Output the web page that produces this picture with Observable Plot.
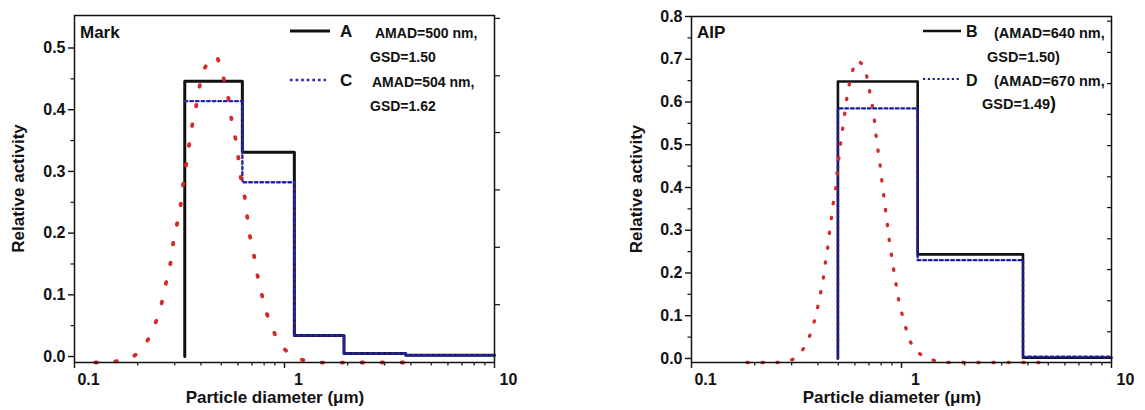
<!DOCTYPE html>
<html>
<head>
<meta charset="utf-8">
<script src="https://cdn.jsdelivr.net/npm/d3@7"></script>
<script src="https://cdn.jsdelivr.net/npm/@observablehq/plot@0.6"></script>
<style>
  html, body { margin: 0; padding: 0; background: #fff; }
  #wrap { display: flex; width: 1145px; height: 410px; overflow: hidden; }
  svg text { font-family: "Liberation Sans", Arial, sans-serif; font-weight: bold; }
</style>
</head>
<body>
<div id="wrap"></div>
<script>
// ---------- data ----------
// Left panel "Mark": bin edges (µm) and relative activity per bin
const leftEdges = [0.335, 0.63, 1.114, 1.92, 3.78, 10];
const seriesA = [0.446, 0.331, 0.034, 0.005, 0.002];
const seriesC = [0.414, 0.2825, 0.034, 0.005, 0.002];
// Left panel fitted lognormal (red dotted)
const leftFitX = [0.1258,0.1566,0.190,0.2215,0.2434,0.2599,0.2727,0.2858,0.2944,0.3074,0.3199,0.3284,0.3393,0.3506,0.3623,0.3785,0.3925,0.4147,0.4677,0.5087,0.5374,0.5552,0.5800,0.5994,0.6146,0.6421,0.6613,0.6806,0.7110,0.7379,0.7734,0.8141,0.8750,0.9592,1.1215,1.396,1.751,2.162,2.691,3.349,4.169];
const leftFitY = [-0.0097,-0.008,0.0,0.025,0.055,0.086,0.119,0.150,0.182,0.214,0.245,0.277,0.308,0.341,0.372,0.404,0.435,0.466,0.487,0.455,0.423,0.391,0.359,0.329,0.296,0.265,0.232,0.200,0.169,0.137,0.106,0.075,0.046,0.019,-0.001,-0.009,-0.0097,-0.0097,-0.0097,-0.0097,-0.0097];

// Right panel "AIP"
const rightEdges = [0.498, 1.194, 3.79, 10];
const seriesB = [0.648, 0.2436, 0.0016];
const seriesD = [0.585, 0.230, 0.004];
const rightFitX = [0.1839,0.2168,0.2554,0.3008,0.3380,0.3648,0.3828,0.3981,0.4114,0.4238,0.4331,0.4442,0.4525,0.4626,0.4713,0.4849,0.4924,0.5011,0.5104,0.5217,0.5333,0.5451,0.5590,0.5801,0.6128,0.6659,0.6911,0.7142,0.7348,0.7486,0.7627,0.7796,0.7968,0.8109,0.8288,0.8444,0.8630,0.8790,0.9015,0.9244,0.9489,0.9761,1.0132,1.0620,1.1215,1.2376,1.4424,1.7003,2.0032,2.3604,2.7813,3.2767,3.7777,4.4513,5.2457];
const rightFitY = [-0.0094,-0.0094,-0.0094,-0.003,0.020,0.052,0.084,0.118,0.152,0.186,0.221,0.255,0.290,0.324,0.358,0.393,0.428,0.461,0.496,0.529,0.564,0.598,0.632,0.666,0.697,0.680,0.646,0.611,0.576,0.543,0.507,0.473,0.440,0.404,0.371,0.337,0.301,0.268,0.233,0.198,0.164,0.130,0.098,0.063,0.032,0.009,-0.005,-0.0094,-0.0094,-0.0094,-0.0094,-0.0094,-0.0094,-0.0094,-0.0094];

// Axis ticks
const xMajor = [0.1, 1, 10];
const xMinor = [0.2,0.3,0.4,0.5,0.6,0.7,0.8,0.9,2,3,4,5,6,7,8,9];
const leftYMajor = [0, 0.1, 0.2, 0.3, 0.4, 0.5];
const leftYMinor = [0.05, 0.15, 0.25, 0.35, 0.45];
const leftSecondaryTicks = [0.084, 0.177, 0.270, 0.363, 0.455, 0.548];
const rightYMajor = [0, 0.1, 0.2, 0.3, 0.4, 0.5, 0.6, 0.7, 0.8];
const rightYMinor = [0.05, 0.15, 0.25, 0.35, 0.45, 0.55, 0.65, 0.75];
const rightSecondaryTicks = [0.0625, 0.135, 0.208, 0.280, 0.353, 0.425, 0.498, 0.571, 0.643, 0.716, 0.789];

// ---------- helpers ----------
function stepPoints(edges, values, fromZero) {
  const pts = fromZero ? [{x: edges[0], y: 0}] : [];
  values.forEach((v, i) => pts.push({x: edges[i], y: v}));
  pts.push({x: edges[edges.length - 1], y: values[values.length - 1]});
  return pts;
}
const fmt1 = d3.format(".1f");
const xFmt = d => d < 1 ? "0.1" : String(d);

function panel(opts) {
  const fit = opts.fitX.map((x, i) => ({x, y: opts.fitY[i]}));
  const svg = Plot.plot({
    width: opts.width, height: 410,
    marginLeft: opts.ml, marginRight: opts.mr, marginTop: opts.mt, marginBottom: 48,
    style: {fontFamily: "Liberation Sans, Arial, sans-serif", fontWeight: "bold", fontSize: "16px", color: "#111", background: "white"},
    x: {type: "log", domain: [0.1, 10]},
    y: {domain: opts.yDomain},
    marks: [
      Plot.line(stepPoints(opts.edges, opts.s1, true), {x: "x", y: "y", curve: "step-after", stroke: "#111", strokeWidth: opts.s1W}),
      Plot.line(stepPoints(opts.edges, opts.s2, opts.s2Zero), {x: "x", y: "y", curve: "step-after", stroke: opts.blue, strokeWidth: 2.4, strokeDasharray: "2.6,3"}),
      Plot.line(fit, {x: "x", y: "y", stroke: "#d42a2a", strokeWidth: opts.fitW, strokeDasharray: opts.fitDash, strokeLinecap: "round", curve: "catmull-rom"}),
      Plot.axisX({ticks: xMajor, tickSize: 6, tickFormat: () => "", label: null, strokeWidth: 1.4}),
      Plot.axisX({ticks: xMinor, tickSize: 3.5, tickFormat: () => "", label: null, strokeWidth: 1.2}),
      Plot.axisX({ticks: xMajor, tickSize: 0, tickPadding: 11, dx: 14, tickFormat: xFmt, label: null, fontSize: 16}),
      Plot.axisY({ticks: opts.yMajor, tickSize: 6, tickPadding: 3, tickFormat: fmt1, label: null, fontSize: 16, strokeWidth: 1.4}),
      Plot.axisY({ticks: opts.yMinor, tickSize: 3.5, tickFormat: () => "", label: null, strokeWidth: 1.2}),
      Plot.axisY({anchor: "right", ticks: opts.secTicks, tickSize: opts.secSize, tickFormat: () => "", label: null, strokeWidth: 1.2}),
      Plot.frame({stroke: "#111", strokeWidth: 1.5})
    ]
  });
  const s = d3.select(svg);
  const fw = opts.width - opts.ml - opts.mr;
  // axis titles
  s.append("text").attr("x", opts.ml + fw / 2 - 9).attr("y", 403)
    .attr("text-anchor", "middle").attr("font-size", 17).attr("fill", "#111")
    .text("Particle diameter (\u03bcm)");
  s.append("text").attr("transform", `translate(${opts.yTitleX},${(opts.mt + 362) / 2}) rotate(-90)`)
    .attr("text-anchor", "middle").attr("dy", "0.35em").attr("font-size", 17).attr("fill", "#111")
    .text("Relative activity");
  // panel title
  s.append("text").attr("x", opts.ml + 6).attr("y", 32).attr("dy", "0.35em")
    .attr("text-anchor", "start").attr("font-size", 17).attr("fill", "#111").text(opts.title);
  // legend
  const lg = s.append("g").attr("fill", "#111").attr("text-anchor", "start");
  opts.legend.forEach(e => {
    if (e.line) {
      lg.append("line").attr("x1", e.x1).attr("x2", e.x2).attr("y1", e.y).attr("y2", e.y)
        .attr("stroke", e.color).attr("stroke-width", e.w).attr("stroke-dasharray", e.dash || null);
    } else {
      lg.append("text").attr("x", e.x).attr("y", e.y).attr("dy", "0.35em")
        .attr("text-anchor", "start").attr("font-size", e.size).text(e.t);
    }
  });
  return svg;
}

const left = panel({
  width: 560, ml: 74, mr: 66, mt: 15, yDomain: [-0.0097, 0.5527],
  edges: leftEdges, s1: seriesA, s2: seriesC, s2Zero: false, s1W: 3, blue: "#2424b0",
  fitX: leftFitX, fitY: leftFitY, fitW: 3.8, fitDash: "1.6,18.4",
  yMajor: leftYMajor, yMinor: leftYMinor, secTicks: leftSecondaryTicks, secSize: 5,
  yTitleX: 18, title: "Mark",
  legend: [
    {line: true, x1: 290, x2: 330, y: 31, color: "#111", w: 3},
    {t: "A", x: 340, y: 31, size: 17},
    {t: "AMAD=500 nm,", x: 375, y: 33, size: 14},
    {t: "GSD=1.50", x: 370, y: 57, size: 14},
    {line: true, x1: 290, x2: 326, y: 80, color: "#2424b0", w: 2.6, dash: "2.6,3"},
    {t: "C", x: 340, y: 80, size: 17},
    {t: "AMAD=504 nm,", x: 372, y: 82, size: 14},
    {t: "GSD=1.62", x: 370, y: 106, size: 14}
  ]
});

const right = panel({
  width: 585, ml: 131, mr: 34, mt: 16, yDomain: [-0.0094, 0.8],
  edges: rightEdges, s1: seriesB, s2: seriesD, s2Zero: true, s1W: 2.6, blue: "#1c1c96",
  fitX: rightFitX, fitY: rightFitY, fitW: 3.3, fitDash: "1.3,13.7",
  yMajor: rightYMajor, yMinor: rightYMinor, secTicks: rightSecondaryTicks, secSize: -5,
  yTitleX: 76, title: "AIP",
  legend: [
    {line: true, x1: 363, x2: 401, y: 31, color: "#111", w: 2.6},
    {t: "B", x: 406, y: 31, size: 16},
    {t: "(AMAD=640 nm,", x: 434, y: 33, size: 14.5},
    {t: "GSD=1.50)", x: 427, y: 57, size: 14.5},
    {line: true, x1: 363, x2: 400, y: 79, color: "#1c1c96", w: 2.2, dash: "2.2,2.6"},
    {t: "D", x: 406, y: 80, size: 16},
    {t: "(AMAD=670 nm,", x: 434, y: 81, size: 14.5},
    {t: "GSD=1.49", x: 422, y: 104, size: 14.5},
    {t: ")", x: 490, y: 103, size: 18}
  ]
});

document.getElementById("wrap").append(left, right);
</script>
</body>
</html>
